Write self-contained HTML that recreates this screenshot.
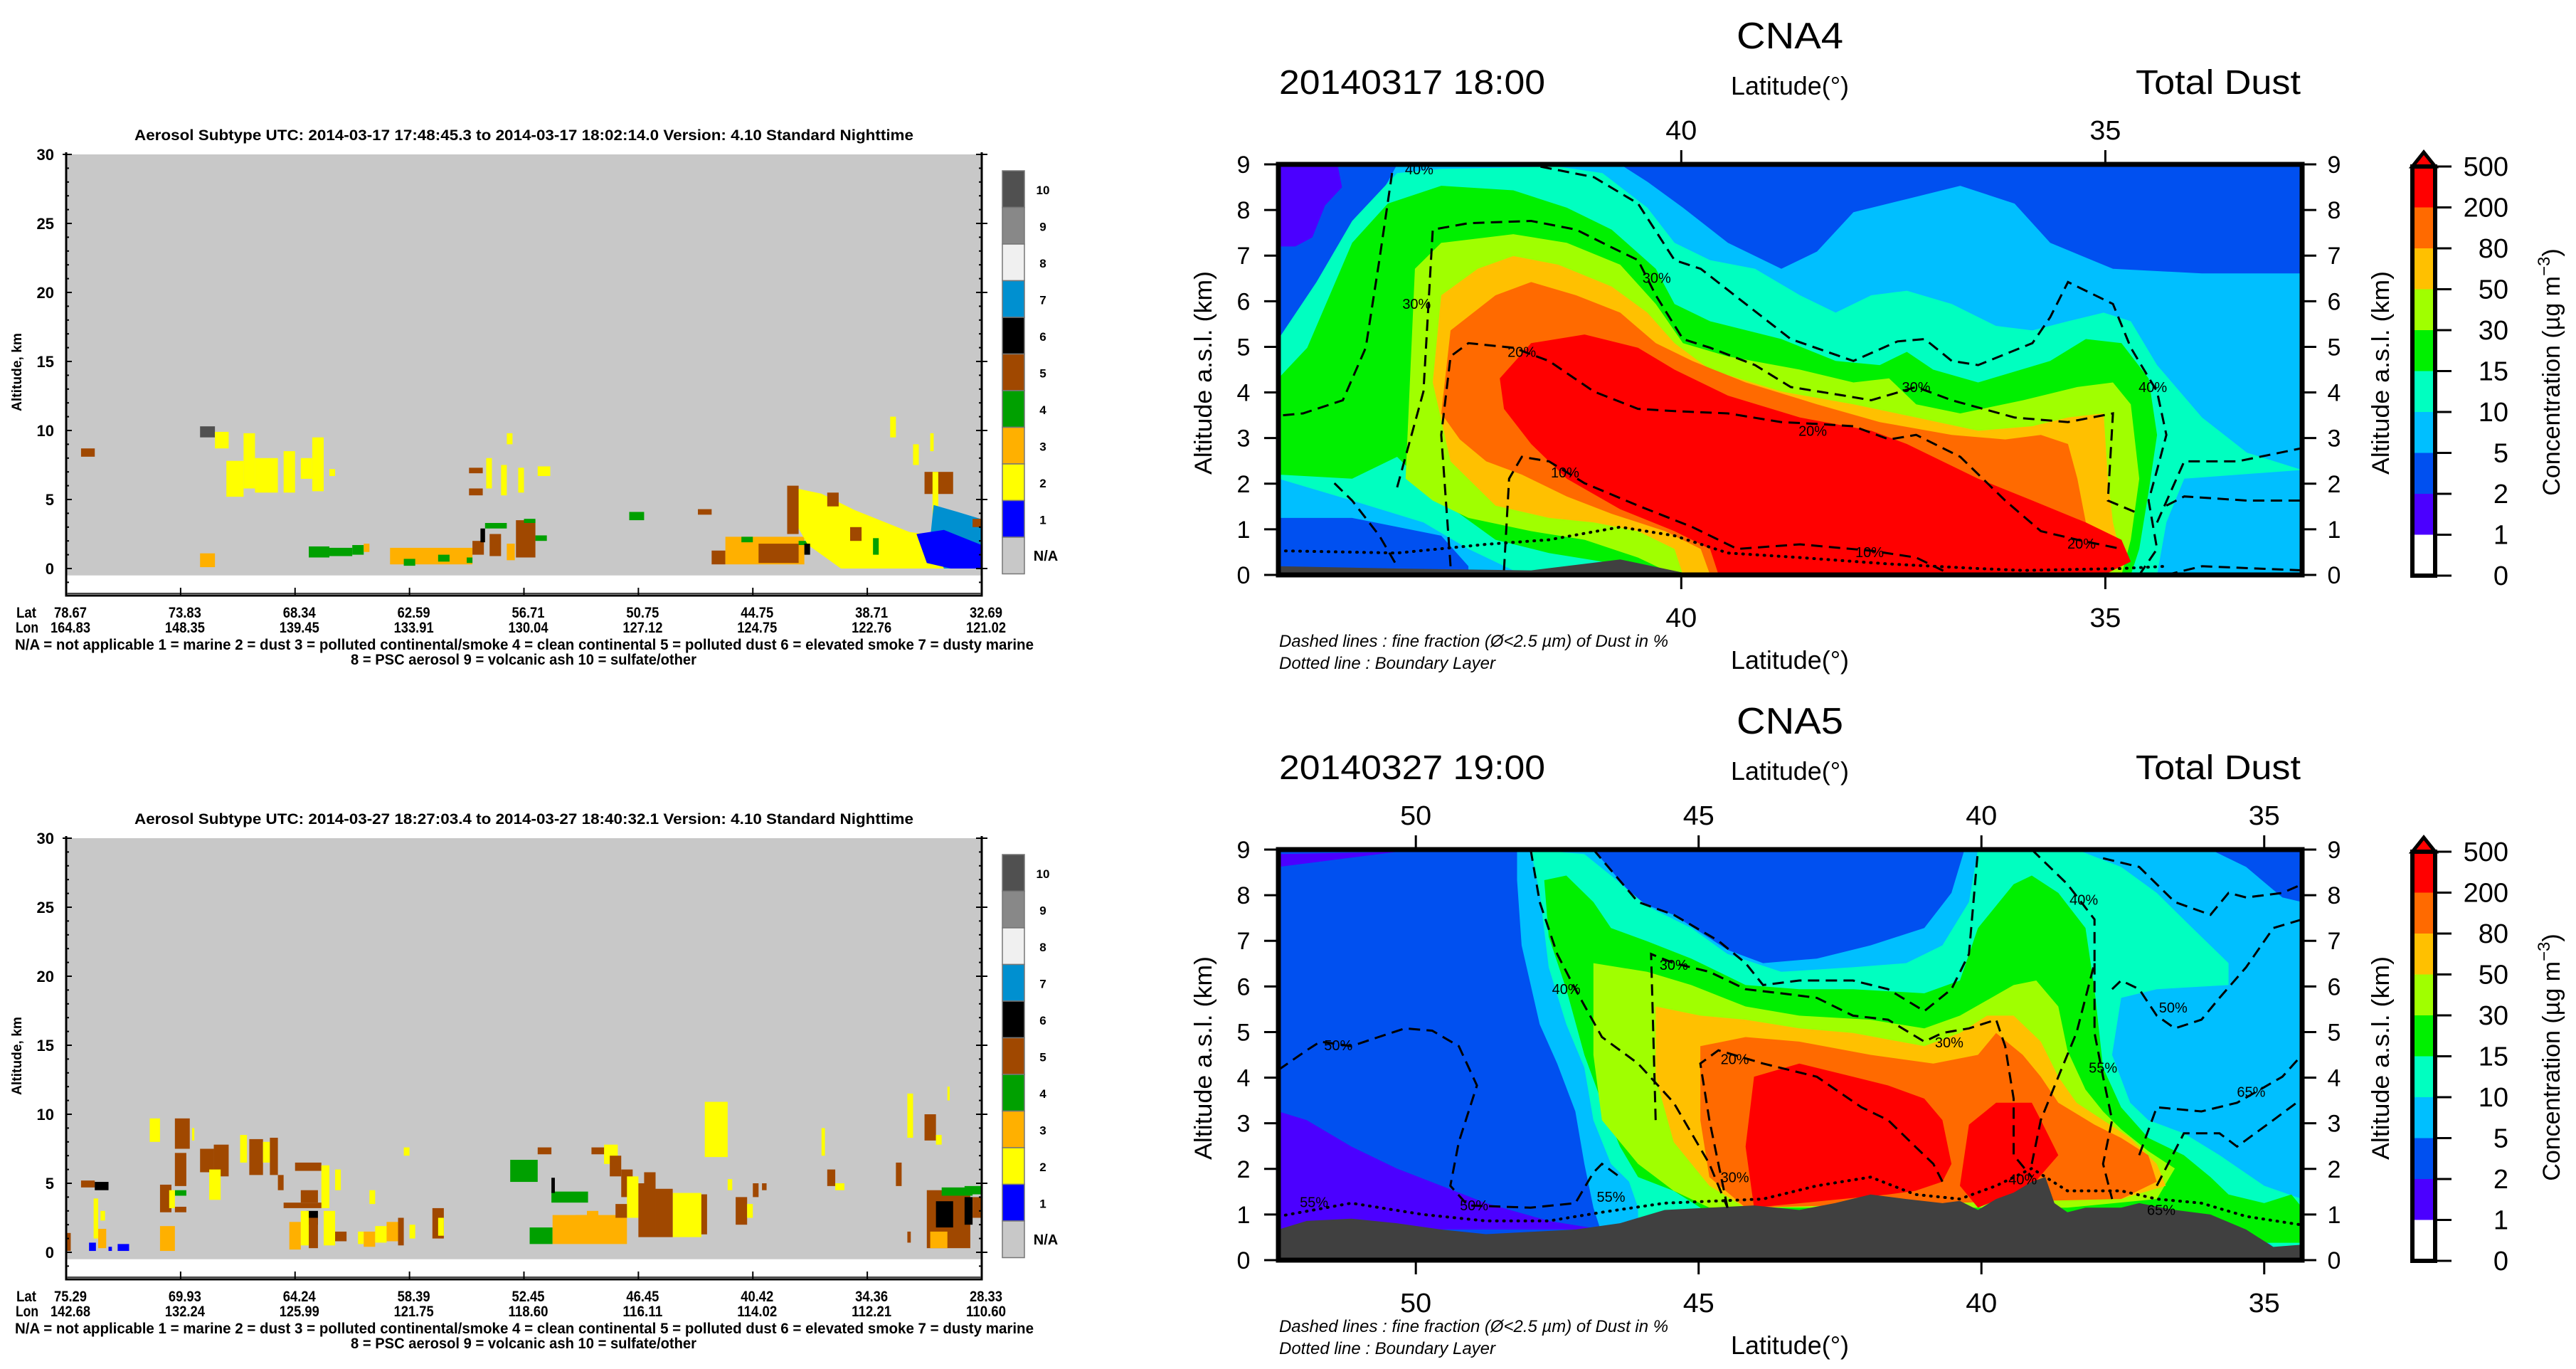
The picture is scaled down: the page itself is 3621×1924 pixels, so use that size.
<!DOCTYPE html>
<html><head><meta charset="utf-8"><style>
html,body{margin:0;padding:0;background:#fff;}
svg{display:block;font-family:"Liberation Sans",sans-serif;}
</style></head><body>
<svg id="fig" xmlns="http://www.w3.org/2000/svg" width="3621" height="1924" viewBox="0 0 3621 1924">
<rect x="0" y="0" width="3621" height="1924" fill="#fff"/>
<defs>
<clipPath id="clipA"><rect x="1797" y="231" width="1439" height="577"/></clipPath>
<clipPath id="clipB"><rect x="1797" y="1194" width="1439" height="577"/></clipPath>
</defs>
</svg>
<script>
const NS='http://www.w3.org/2000/svg';
const svg=document.getElementById('fig');
function mk(tag,attrs,parent){const e=document.createElementNS(NS,tag);for(const k in attrs)e.setAttribute(k,attrs[k]);(parent||svg).appendChild(e);return e;}
function txt(s,attrs,parent){const e=mk('text',attrs,parent);e.textContent=s;return e;}

/* ===== CALIPSO panel data ===== */
const typeColors=['#c8c8c8','#0000ff','#ffff00','#ffb000','#00a000','#a04800','#000000','#0090d0','#f0f0f0','#888888','#505050'];
const typeLabels=['N/A','1','2','3','4','5','6','7','8','9','10'];
const altTicks=[0,5,10,15,20,25,30];
const topLats=['78.67','73.83','68.34','62.59','56.71','50.75','44.75','38.71','32.69'];
const topLons=['164.83','148.35','139.45','133.91','130.04','127.12','124.75','122.76','121.02'];
const botLats=['75.29','69.93','64.24','58.39','52.45','46.45','40.42','34.36','28.33'];
const botLons=['142.68','132.24','125.99','121.75','118.60','116.11','114.02','112.21','110.60'];
const topBlocks=[[0.13,0.25,8.1,8.7,5],[1.17,1.30,9.5,10.3,10],[1.30,1.42,8.7,9.9,2],[1.17,1.30,0.1,1.1,3],
[1.40,1.55,5.2,7.8,2],[1.55,1.65,5.8,9.8,2],[1.65,1.85,5.5,8.0,2],[1.90,2.0,5.5,8.5,2],[2.05,2.15,6.5,8.0,2],[2.15,2.25,5.6,9.5,2],[2.30,2.35,6.7,7.2,2],
[2.12,2.30,0.8,1.6,4],[2.30,2.50,0.9,1.5,4],[2.50,2.60,1.0,1.7,4],[2.60,2.65,1.2,1.8,3],
[2.83,3.55,0.3,1.5,3],[2.95,3.05,0.2,0.7,4],[3.25,3.35,0.5,1.0,4],[3.50,3.55,0.4,0.8,4],
[3.52,3.64,6.9,7.3,5],[3.52,3.64,5.3,5.8,5],[3.67,3.72,5.8,8.0,2],[3.80,3.85,5.3,7.5,2],[3.85,3.90,9.0,9.8,2],[3.95,4.0,5.5,7.3,2],[4.12,4.23,6.7,7.4,2],
[3.55,3.65,1.0,2.0,5],[3.62,3.66,1.9,2.9,6],[3.66,3.85,2.9,3.3,4],[3.70,3.80,0.9,2.5,5],[3.85,3.92,0.6,1.8,3],[3.93,4.10,0.8,3.5,5],[4.0,4.1,3.3,3.6,4],[4.1,4.2,2.0,2.4,4],
[4.92,5.05,3.5,4.1,4],[5.52,5.64,3.9,4.3,5],[5.64,5.76,0.3,1.3,5],[5.76,6.45,0.3,2.3,3],[6.05,6.40,0.4,1.8,5],[5.90,6.0,1.9,2.3,4],[6.40,6.50,1.7,2.0,4],
[7.50,7.75,5.4,7.0,5],[7.20,7.25,9.5,11,2],[7.40,7.45,7.5,9.0,2],[7.55,7.58,8.5,9.8,2],[7.57,7.62,2.5,7.0,2]];
const topPolys=[{t:2,p:[[6.30,5.95],[6.60,5.42],[6.89,4.23],[7.37,2.64],[8,1.98],[8,0],[6.77,0],[6.48,1.72],[6.30,4.36]]},
{t:7,p:[[7.58,4.6],[7.79,4.1],[8,3.57],[8,0],[7.67,0],[7.55,2.2]]},
{t:1,p:[[7.43,2.5],[7.67,2.8],[7.91,2.0],[8,1.7],[8,0],[7.73,0],[7.52,0.4]]}];
const topBlocks2=[[6.30,6.40,2.5,6.0,5],[6.65,6.75,4.5,5.5,5],[6.45,6.5,1.0,1.8,6],[7.92,8.0,3.0,3.6,5],[6.85,6.95,2.0,3.0,5],[7.05,7.1,1.0,2.2,4]];
const botBlocks=[[0.0,0.04,0.1,1.4,5],[0.13,0.25,4.7,5.2,5],[0.25,0.37,4.5,5.1,6],[0.20,0.26,0.1,0.7,1],[0.37,0.40,0.1,0.4,1],[0.45,0.55,0.1,0.6,1],
[0.24,0.28,1.0,3.9,2],[0.28,0.35,0.3,1.7,3],[0.30,0.34,2.3,3.0,2],[0.73,0.82,8.0,9.7,2],[0.95,1.08,7.5,9.7,5],[1.10,1.12,8.1,9.0,2],[0.82,0.95,0.1,1.9,3],
[0.82,0.92,2.9,4.9,5],[0.95,1.05,2.9,3.3,5],[0.95,1.05,4.1,4.5,4],[0.95,1.05,4.8,7.2,5],[0.90,0.95,3.2,4.5,2],
[1.17,1.29,5.8,7.5,5],[1.29,1.42,5.5,7.8,5],[1.25,1.35,3.8,6.0,2],[1.52,1.58,6.5,8.5,2],[1.60,1.72,5.6,8.2,5],[1.72,1.78,6.5,8.0,2],[1.78,1.85,5.6,8.3,5],[1.85,1.90,4.5,5.6,5],
[2.0,2.23,5.9,6.5,5],[2.23,2.30,3.2,6.3,2],[2.35,2.40,4.5,6.0,2],[1.90,2.23,3.2,3.6,5],[2.05,2.20,3.6,4.5,5],[2.10,2.20,2.0,3.0,6],[1.95,2.05,0.2,2.2,3],[2.05,2.12,0.5,3.0,2],[2.12,2.20,0.3,2.5,5],[2.25,2.35,0.5,3.0,2],[2.35,2.45,0.8,1.5,5],
[2.55,2.60,0.6,1.5,2],[2.60,2.70,0.4,1.5,3],[2.70,2.80,0.7,1.9,2],[2.80,2.90,0.8,2.2,3],[2.90,2.95,0.5,2.5,5],[3.00,3.05,1.0,2.0,2],[3.20,3.30,1.0,3.2,5],[3.25,3.30,1.2,2.5,2],[2.65,2.70,3.5,4.5,2],[2.95,3.0,7.0,7.6,2],
[3.88,4.12,5.1,6.7,4],[4.12,4.24,7.1,7.6,5],[4.24,4.56,3.6,4.4,4],[4.24,4.27,4.3,5.4,6],[4.05,4.25,0.6,1.8,4],[4.25,4.90,0.6,2.7,3],[4.45,4.55,2.3,2.7,3],[4.55,4.65,2.5,3.0,3],
[4.59,4.71,7.1,7.6,5],[4.70,4.82,6.4,7.8,2],[4.75,4.85,5.5,7.0,5],[4.85,4.95,4.0,6.0,5],[4.90,5.00,2.5,5.5,2],[5.0,5.15,1.1,5.0,5],[5.05,5.15,4.3,5.8,5],[4.80,4.90,2.5,3.5,5],
[5.30,5.55,1.1,4.3,2],[5.15,5.30,1.1,4.6,5],[5.55,5.60,1.3,4.2,5],[5.58,5.78,6.9,10.9,2],[5.78,5.82,4.5,5.3,2],[5.85,5.95,2.0,4.0,5],[5.95,6.00,2.5,3.5,2],[6.00,6.05,4.0,5.0,5],[6.08,6.12,4.5,5.0,5],
[6.60,6.63,7.0,9.0,2],[6.65,6.72,4.8,6.0,5],[6.72,6.80,4.5,5.0,2],[7.25,7.30,4.8,6.5,5],[7.35,7.38,0.7,1.5,5],[7.35,7.40,8.3,11.5,2],[7.5,7.6,8.1,10.0,5],[7.60,7.65,7.8,8.5,2],[7.70,7.72,11,12,2],
[7.52,7.90,0.3,4.5,5],[7.60,7.75,1.8,3.7,6],[7.85,7.92,2.0,4.0,6],[7.55,7.70,0.3,1.5,3],[7.65,7.92,4.1,4.7,4],[7.85,8.0,4.2,4.8,4],[7.92,8.0,2.5,4.0,5]];

function drawCalipso(oy,title,lats,lons,blocks,polys,blocks2){
  const g=mk('g',{});
  
  
  const cx=f=>93+f*160.875, cy=a=>oy+799-a*19.4;
  const t=txt(title,{x:189,y:oy+197,'font-size':21,'font-weight':'bold',textLength:1095,lengthAdjust:'spacingAndGlyphs'},g);
  
  
  const bg=mk('rect',{x:93,y:cy(30),width:1287,height:cy(-0.5)-cy(30),fill:typeColors[0]},g);
  
  
  const drawB=list=>list.forEach(b=>{
    const r=mk('rect',{x:cx(b[0]),y:cy(b[3]),width:Math.max(2,cx(b[1])-cx(b[0])),height:cy(b[2])-cy(b[3]),fill:typeColors[b[4]]},g);
    
    
  });
  drawB(blocks);
  polys.forEach(pl=>{
    const d='M'+pl.p.map(q=>cx(q[0]).toFixed(1)+','+cy(q[1]).toFixed(1)).join('L')+'Z';
    const p=mk('path',{d:d,fill:typeColors[pl.t]},g);
    
    
  });
  drawB(blocks2);
  const ax=mk('path',{d:`M93,${cy(30)-3}V${oy+837}H1380V${cy(30)-3}`,fill:'none',stroke:'#000','stroke-width':3},g);
  
  
  mk('line',{x1:93,x2:1380,y1:oy+834,y2:oy+834,stroke:'#444','stroke-width':2},g);
  for(let a=-1;a<=30;a++){
    const big=a%5===0;
    mk('line',{x1:93,x2:big?101:97,y1:cy(a),y2:cy(a),stroke:'#000','stroke-width':2},g);
    mk('line',{x1:big?1372:1376,x2:big?1388:1380,y1:cy(a),y2:cy(a),stroke:'#000','stroke-width':2},g);
  }
  mk('line',{x1:88,x2:93,y1:cy(30),y2:cy(30),stroke:'#000','stroke-width':2},g);
  altTicks.forEach(a=>{
    const l=txt(String(a),{x:76,y:cy(a)+8,'font-size':22,'font-weight':'bold','text-anchor':'end'},g);
    
    
  });
  const yt=txt('Altitude, km',{x:0,y:0,'font-size':19,'font-weight':'bold','text-anchor':'middle',textLength:110,lengthAdjust:'spacingAndGlyphs',transform:`translate(30,${oy+523}) rotate(-90)`},g);
  
  
  lats.forEach((v,i)=>{
    const x=cx(i);
    mk('line',{x1:x,x2:x,y1:oy+826,y2:oy+837,stroke:'#000','stroke-width':2},g);
    const a=txt(v,{x:x+6,y:oy+868,'font-size':21,'font-weight':'bold','text-anchor':'middle',textLength:46,lengthAdjust:'spacingAndGlyphs'},g);
    
    
    const b=txt(lons[i],{x:x+6,y:oy+889,'font-size':21,'font-weight':'bold','text-anchor':'middle',textLength:56,lengthAdjust:'spacingAndGlyphs'},g);
    
    
  });
  const la=txt('Lat',{x:23,y:oy+868,'font-size':21,'font-weight':'bold',textLength:28,lengthAdjust:'spacingAndGlyphs'},g);
  
  
  const lo=txt('Lon',{x:22,y:oy+889,'font-size':21,'font-weight':'bold',textLength:32,lengthAdjust:'spacingAndGlyphs'},g);
  
  
  const l1=txt('N/A = not applicable     1 = marine     2 = dust     3 = polluted continental/smoke     4 = clean continental     5 = polluted dust     6 = elevated smoke     7 = dusty marine',{x:21,y:oy+913,'font-size':21,'font-weight':'bold',textLength:1432,lengthAdjust:'spacingAndGlyphs'},g);
  
  
  const l2=txt('8 = PSC aerosol     9 = volcanic ash     10 = sulfate/other',{x:493,y:oy+934,'font-size':21,'font-weight':'bold',textLength:486,lengthAdjust:'spacingAndGlyphs'},g);
  
  
  for(let k=0;k<11;k++){
    const idx=10-k, y=oy+240+k*51.5;
    const s=mk('rect',{x:1409,y:y,width:31,height:51.5,fill:typeColors[idx],stroke:'#777','stroke-width':1.5},g);
    
    
    const c=txt(typeLabels[idx],{x:idx===0?1470:1466,y:y+33,'font-size':idx===0?20:17,'font-weight':'bold','text-anchor':'middle'},g);
    
    
  }
}
drawCalipso(0,'Aerosol Subtype    UTC:  2014-03-17   17:48:45.3  to  2014-03-17   18:02:14.0    Version: 4.10  Standard Nighttime',topLats,topLons,topBlocks,topPolys,topBlocks2);
drawCalipso(961,'Aerosol Subtype    UTC:  2014-03-27   18:27:03.4  to  2014-03-27   18:40:32.1    Version: 4.10  Standard Nighttime',botLats,botLons,botBlocks,[],[]);

/* ===== Model panels data ===== */
const levelColors={p:'#4b00ff',b:'#0050f0',lb:'#00bfff',c:'#00ffc0',g:'#00f000',yg:'#a0ff00',o5:'#ffc000',o:'#ff6a00',r:'#ff0000',gr:'#404040'};
const cbLabels=['0','1','2','5','10','15','30','50','80','200','500'];
const cbColors=['#ffffff','#4b00ff','#0050f0','#00bfff','#00ffc0','#00f000','#a0ff00','#ffc000','#ff6a00','#ff0000'];
const altLabels=[0,1,2,3,4,5,6,7,8,9];
const cna4Ticks=[40,35];
const cna5Ticks=[50,45,40,35];
const cna4Polys=[
{c:'b',p:[[44.75,9],[43.35,9],[43.46,8.62],[43.88,7.28],[44.41,5.94],[44.75,5.17]]},
{c:'b',p:[[40.72,9],[32.68,9],[32.68,6.61],[33.86,6.61],[34.91,6.71],[35.65,7.28],[36.07,8.14],[36.71,8.53],[37.34,8.24],[37.97,7.95],[38.40,7.09],[38.82,6.71],[39.45,7.28],[39.98,8.05],[40.40,8.62]]},
{c:'b',p:[[44.75,1.25],[43.88,1.25],[42.83,0.86],[42.51,0.19],[42.51,0],[44.75,0]]},
{c:'p',p:[[44.75,8.95],[44.05,8.97],[44.0,8.5],[44.2,8.1],[44.35,7.4],[44.55,7.2],[44.75,7.2]]},
{c:'c',p:[[44.75,5.17],[44.30,6.42],[43.88,7.76],[43.35,8.81],[42.83,8.9],[41.45,8.95],[40.93,8.81],[40.40,8.05],[40.08,7.28],[39.66,6.9],[39.13,6.71],[38.60,6.13],[38.18,5.75],[37.76,6.13],[37.34,6.23],[36.81,5.94],[36.29,5.46],[35.86,5.36],[35.44,5.56],[35.02,5.75],[34.70,5.56],[34.39,4.6],[33.86,3.45],[33.33,2.68],[32.68,2.3],[34.07,2.11],[34.28,1.15],[34.39,0],[41.77,0],[41.98,0.1],[42.51,0.57],[43.04,1.15],[43.88,1.63],[44.75,2.11]]},
{c:'g',p:[[44.75,4.31],[44.41,4.98],[43.88,7.28],[43.46,8.14],[42.83,8.53],[41.98,8.43],[41.35,8.05],[40.82,7.57],[40.30,6.71],[40.08,5.94],[39.66,5.56],[38.82,5.17],[38.18,4.69],[37.66,4.6],[37.34,4.89],[37.03,4.5],[36.50,4.22],[35.65,4.69],[35.23,5.17],[34.81,5.08],[34.49,4.31],[34.39,3.07],[34.49,1.82],[34.60,0.57],[34.70,0],[40.72,0],[40.93,0.29],[41.56,0.48],[42.19,0.77],[42.83,1.63],[43.35,2.59],[43.88,2.11],[44.75,2.2]]},
{c:'yg',p:[[43.25,2.11],[43.14,6.71],[42.83,7.28],[41.98,7.47],[41.35,7.28],[40.72,6.8],[40.30,5.94],[39.98,5.08],[39.45,4.79],[38.60,4.5],[37.97,4.22],[37.55,4.31],[37.23,3.74],[36.71,3.54],[35.97,3.83],[35.33,4.12],[34.91,4.22],[34.70,3.74],[34.60,2.11],[34.70,0.77],[34.81,0],[40.08,0],[40.51,0.38],[41.14,0.77],[41.77,0.96],[42.51,1.25],[42.93,1.63]]},
{c:'o5',p:[[42.93,4.22],[42.83,6.13],[42.40,6.71],[41.98,6.99],[41.45,6.8],[40.82,6.32],[40.40,5.75],[40.08,5.08],[39.66,4.5],[38.82,4.02],[37.97,3.74],[37.23,3.45],[36.50,3.16],[35.86,3.26],[35.44,3.45],[35.02,3.54],[34.97,2.11],[34.91,1.15],[34.81,0.38],[35.02,0],[39.98,0],[40.08,0.57],[40.51,0.96],[41.03,1.15],[41.56,1.25],[42.19,1.52],[42.72,2.49]]},
{c:'o',p:[[42.83,3.54],[42.72,5.36],[42.19,6.13],[41.77,6.42],[41.24,6.13],[40.72,5.75],[40.30,5.08],[39.87,4.69],[39.24,4.22],[38.40,3.74],[37.66,3.35],[36.81,3.07],[36.18,2.97],[35.76,3.07],[35.44,2.87],[35.33,2.11],[35.23,1.15],[34.91,0.77],[34.81,0.19],[35.02,0],[39.66,0],[39.77,0.57],[40.19,0.96],[40.82,1.34],[41.35,1.72],[41.88,2.2],[42.30,2.49],[42.61,2.97]]},
{c:'r',p:[[42.14,4.31],[41.77,5.08],[41.14,5.27],[40.51,4.98],[40.08,4.5],[39.45,3.93],[38.60,3.45],[37.76,3.16],[37.34,2.87],[36.92,2.49],[36.50,2.11],[35.86,1.63],[35.23,1.15],[34.81,0.77],[34.70,0.29],[35.02,0],[39.56,0],[39.66,0.57],[40.08,0.96],[40.72,1.44],[41.35,2.11],[41.77,2.87],[42.09,3.64]]},
{c:'gr',p:[[44.75,0.19],[43.35,0.14],[41.77,0.1],[40.93,0.29],[40.72,0.34],[39.98,0.05],[32.68,0.02],[32.68,-0.2],[44.75,-0.2]]}];
const cna4Dashed=[
[[43.41,8.81],[43.56,6.9],[43.72,4.98],[43.99,3.83],[44.46,3.54],[44.75,3.49]],
[[44.09,2.01],[43.88,1.63],[43.56,0.86],[43.35,0.19]],
[[43.35,1.92],[43.04,4.02],[42.93,7.57],[42.51,7.71],[41.77,7.76],[41.24,7.57],[40.82,7.18],[40.51,6.9],[40.30,6.13],[39.98,5.17],[39.66,4.98],[39.13,4.6],[38.71,4.12],[38.08,3.93],[37.76,3.83],[37.23,4.12],[36.81,3.83],[36.07,3.45],[35.44,3.35],[34.91,3.54],[34.97,1.63],[34.60,1.34]],
[[42.72,0.19],[42.83,3.07],[42.72,4.79],[42.51,5.08],[41.98,4.98],[41.56,4.69],[41.03,4.02],[40.51,3.64],[40.08,3.59],[39.45,3.54],[38.82,3.35],[38.40,3.31],[37.97,3.26],[37.55,2.97],[37.23,3.07],[36.71,2.59],[36.18,1.63],[35.76,0.96],[35.33,0.77],[34.81,0.57]],
[[42.09,0.1],[42.03,2.11],[41.88,2.59],[41.56,2.49],[41.14,2.01],[40.51,1.52],[39.87,1.05],[39.34,0.57],[38.60,0.67],[37.76,0.53],[37.23,0.38],[36.81,0]],
[[41.66,8.95],[41.03,8.72],[40.51,8.14],[40.08,6.9],[39.77,6.71],[39.24,5.94],[38.71,5.17],[37.97,4.69],[37.45,5.12],[37.13,5.17],[36.81,4.69],[36.50,4.6],[35.86,5.08],[35.65,5.65],[35.44,6.42],[34.91,5.94],[34.70,4.98],[34.39,4.02],[34.28,3.07],[34.39,2.3],[34.49,1.63],[34.39,0.57],[34.60,0]],
[[34.39,1.15],[34.07,2.49],[33.44,2.49],[32.68,2.78]],
[[34.28,1.52],[34.07,1.72],[33.33,1.63],[32.68,1.63]],
[[34.28,0],[33.86,0.19],[32.68,0.1]]];
const cna4Dotted=[[44.75,0.53],[43.35,0.48],[42.30,0.67],[41.56,0.77],[40.72,1.05],[40.08,0.86],[39.45,0.48],[38.60,0.38],[37.55,0.24],[36.50,0.14],[35.97,0.1],[34.81,0.14],[34.28,0.19]];
const cna4Labels=[['40%',43.09,8.89],['30%',43.12,5.94],['30%',40.29,6.51],['20%',41.88,4.89],['30%',37.23,4.12],['20%',38.45,3.16],['10%',41.37,2.25],['10%',37.78,0.5],['20%',35.28,0.69],['40%',34.44,4.12]];

const cna5Polys=[
{c:'p',p:[[52.43,3.26],[51.93,3.07],[51.14,2.49],[50.34,2.01],[49.55,1.63],[48.76,1.25],[47.65,0.86],[46.71,0.67],[52.43,0.67]]},
{c:'p',p:[[52.43,8.9],[50.34,8.95],[52.43,8.62]]},
{c:'lb',p:[[48.21,9],[46.86,9],[46.07,7.85],[45.44,7.57],[44.49,6.8],[43.86,6.51],[42.91,6.61],[41.96,6.9],[41.01,7.28],[40.53,8.05],[40.30,9],[35.95,9],[35.32,8.62],[34.68,7.95],[34.33,7.85],[34.33,0],[46.71,0],[46.71,0.57],[46.86,1.15],[47.02,2.11],[47.18,3.26],[47.50,4.31],[47.81,5.17],[48.13,6.9],[48.21,8.33]]},
{c:'c',p:[[47.97,9],[47.02,8.9],[46.55,8.43],[45.91,7.76],[45.13,7.28],[44.49,6.71],[43.54,6.32],[42.27,6.42],[41.33,6.51],[40.69,6.9],[40.22,7.85],[40.06,9],[38.32,9],[37.53,8.62],[36.90,8.05],[36.27,7.28],[35.63,6.51],[35.63,6.03],[36.90,5.94],[37.53,5.75],[37.69,4.5],[37.37,3.45],[37.05,3.07],[36.42,2.78],[35.79,2.3],[35.0,1.63],[34.33,1.34],[34.33,0.29],[34.84,0.29],[35.16,0.67],[35.63,0.86],[36.90,0],[46.07,0],[46.07,1.15],[46.23,1.72],[46.55,2.11],[46.86,3.07],[47.02,4.22],[47.34,5.17],[47.65,6.42],[47.81,8.05]]},
{c:'g',p:[[47.73,8.33],[47.34,8.43],[46.86,7.85],[46.55,7.28],[45.91,6.99],[45.13,6.61],[44.17,6.03],[43.22,5.94],[42.27,5.94],[41.01,5.85],[40.38,6.13],[40.06,7.28],[39.43,8.24],[39.11,8.43],[38.64,8.05],[38.16,7.28],[38.0,5.94],[37.85,4.22],[37.53,3.35],[37.05,2.68],[36.42,2.3],[35.95,1.82],[35.63,1.44],[35.0,1.25],[34.52,1.44],[34.33,1.15],[34.33,0.38],[35.0,0.38],[36.11,0],[44.97,0],[44.97,1.15],[45.44,1.52],[46.07,1.82],[46.39,2.49],[46.71,3.45],[47.02,4.5],[47.34,5.94],[47.65,7.09]]},
{c:'yg',p:[[46.86,6.51],[45.91,6.32],[45.13,6.03],[44.17,5.56],[43.22,5.36],[41.96,5.27],[41.01,5.08],[40.38,5.36],[39.43,6.03],[39.03,6.13],[38.64,5.56],[38.48,4.6],[38.16,3.74],[37.85,3.26],[37.53,2.87],[37.05,2.39],[36.58,2.01],[36.90,1.34],[38.48,1.15],[44.81,1.15],[45.44,1.52],[46.07,2.11],[46.71,3.07],[46.86,4.5]]},
{c:'o5',p:[[45.76,5.56],[44.97,5.36],[44.17,5.27],[43.22,5.08],[42.27,4.98],[41.01,4.69],[40.38,4.98],[39.90,5.36],[39.43,5.36],[38.95,4.79],[38.64,4.02],[38.32,3.45],[37.85,3.07],[37.37,2.68],[36.90,2.11],[36.74,1.63],[37.53,1.34],[44.17,1.15],[44.81,1.63],[45.44,2.59],[45.76,4.02]]},
{c:'o',p:[[44.97,4.69],[44.17,4.89],[43.22,4.79],[41.96,4.5],[40.85,4.31],[40.06,4.5],[39.74,4.98],[39.27,4.5],[38.95,4.02],[38.64,3.45],[38.0,2.97],[37.53,2.68],[37.05,2.3],[36.90,1.72],[37.53,1.34],[44.17,1.15],[44.81,1.82],[44.97,3.07]]},
{c:'r',p:[[44.02,4.02],[43.22,4.31],[42.27,4.02],[41.65,3.83],[41.01,3.54],[40.69,3.07],[40.53,2.11],[40.69,1.72],[41.17,1.52],[41.65,1.44],[44.02,1.15],[44.17,2.49]]},
{c:'r',p:[[40.22,2.97],[39.74,3.45],[39.11,3.45],[38.95,3.07],[38.64,2.3],[39.11,1.63],[40.06,1.15],[40.38,1.63]]},
{c:'gr',p:[[52.43,0.67],[51.93,0.86],[51.14,0.91],[50.34,0.81],[49.55,0.67],[48.76,0.57],[47.97,0.62],[47.18,0.67],[46.39,0.81],[45.60,1.1],[44.81,1.15],[44.02,1.2],[43.22,1.1],[42.59,1.25],[41.96,1.44],[41.33,1.34],[40.69,1.25],[40.38,1.3],[40.06,1.1],[39.74,1.34],[39.43,1.48],[39.11,1.72],[38.87,1.82],[38.71,1.25],[38.48,1.05],[38.16,1.15],[37.53,1.15],[37.21,1.25],[36.58,1.1],[35.95,1.0],[35.32,0.67],[34.84,0.29],[34.33,0.34],[34.33,-0.2],[52.43,-0.2]]}];
const cna5Dashed=[
[[52.43,4.17],[51.93,4.6],[51.69,4.79],[51.14,4.69],[50.66,4.89],[50.19,5.08],[49.71,5.03],[49.24,4.69],[48.92,3.83],[49.24,2.59],[49.39,1.63],[49.08,1.2],[47.97,1.15],[47.18,1.25],[46.86,1.92],[46.71,2.11],[46.39,1.82]],
[[47.97,9],[47.81,7.85],[47.50,6.71],[47.18,5.94],[46.71,4.89],[46.07,4.31],[45.44,3.45],[44.81,2.11],[44.49,1.15]],
[[45.76,3.07],[45.84,6.71],[45.44,6.51],[44.81,6.32],[44.17,5.94],[43.54,5.85],[42.91,5.75],[42.27,5.36],[41.65,5.27],[41.01,4.79],[40.69,4.98],[40.22,5.08],[39.74,5.27],[39.58,4.69],[39.43,3.54],[39.43,2.3],[39.11,1.82]],
[[46.86,9],[46.07,7.85],[45.44,7.57],[44.65,7.0],[44.17,6.51],[43.86,6.03],[43.22,6.13],[42.27,6.13],[41.65,5.94],[41.01,5.46],[40.53,5.94],[40.22,6.71],[40.06,9]],
[[44.49,1.15],[44.81,3.07],[44.97,4.31],[44.65,4.6],[43.86,4.31],[42.91,4.02],[42.12,3.35],[41.65,3.07],[41.17,2.49],[40.85,2.11],[40.69,1.72]],
[[39.11,9],[38.48,8.24],[38.0,7.47],[38.0,6.51],[38.32,4.98],[38.64,4.02],[38.95,3.07],[39.11,2.11]],
[[38.0,6.51],[38.0,4.98],[37.85,4.02],[37.69,3.07],[37.85,2.11],[37.69,1.34]],
[[37.69,5.94],[37.53,6.13],[37.21,5.94],[36.90,5.36],[36.58,5.08],[36.11,5.27],[35.79,5.75],[35.32,6.42],[34.84,7.28],[34.33,7.47]],
[[37.85,8.81],[37.21,8.62],[36.58,7.85],[35.95,7.57],[35.63,8.05],[35.32,7.95],[34.68,8.05],[34.33,8.24]],
[[37.21,2.3],[36.90,3.35],[36.11,3.26],[35.48,3.45],[34.68,4.02],[34.33,4.5]],
[[36.90,1.63],[36.42,2.78],[35.79,2.78],[35.48,2.49],[34.84,3.07],[34.33,3.54]]];
const cna5Dotted=[[52.43,0.96],[51.14,1.25],[49.87,1.0],[48.76,0.86],[47.65,0.86],[46.71,1.05],[45.60,1.25],[44.81,1.29],[43.86,1.34],[42.91,1.63],[41.96,1.82],[41.17,1.44],[40.38,1.34],[39.74,1.63],[39.11,2.01],[38.48,1.52],[37.53,1.52],[36.90,1.34],[36.11,1.25],[35.32,0.96],[34.33,0.77]];
const cna5Labels=[['50%',51.37,4.71],['40%',47.34,5.94],['30%',45.44,6.47],['20%',44.36,4.41],['30%',44.36,1.82],['55%',51.80,1.27],['50%',48.97,1.2],['55%',46.55,1.39],['30%',40.57,4.77],['40%',38.19,7.9],['55%',37.85,4.22],['50%',36.61,5.54],['65%',35.23,3.69],['40%',39.27,1.77],['65%',36.82,1.1]];

function drawModel(oy,name,date,latL,latR,ticks,polys,dashed,dotted,labels,clip){
  const g=mk('g',{});
  
  
  const X0=1797,X1=3236,Y0=oy+231,Y1=oy+808;
  const x=lat=>X0+(latL-lat)/(latL-latR)*(X1-X0);
  const y=a=>Y1-a*(Y1-Y0)/9;
  const tt=txt(name,{x:2516,y:oy+68,'font-size':52,'text-anchor':'middle',textLength:150,lengthAdjust:'spacingAndGlyphs'},g);
  
  
  const dt=txt(date,{x:1798,y:oy+132,'font-size':48,textLength:374,lengthAdjust:'spacingAndGlyphs'},g);
  
  
  const td=txt('Total Dust',{x:3234,y:oy+132,'font-size':48,'text-anchor':'end',textLength:232,lengthAdjust:'spacingAndGlyphs'},g);
  
  
  const lt=txt('Latitude(°)',{x:2516,y:oy+133,'font-size':36,'text-anchor':'middle',textLength:166,lengthAdjust:'spacingAndGlyphs'},g);
  
  
  const pg=mk('g',{'clip-path':`url(#${clip})`},g);
  const bg=mk('rect',{x:X0,y:Y0,width:X1-X0,height:Y1-Y0,fill:name==='CNA4'?levelColors.lb:levelColors.b},pg);
  
  
  polys.forEach(pl=>{
    const d='M'+pl.p.map(q=>x(q[0]).toFixed(1)+','+y(q[1]).toFixed(1)).join('L')+'Z';
    const p=mk('path',{d:d,fill:levelColors[pl.c]},pg);
    
    
  });
  dashed.forEach(ln=>{
    const d='M'+ln.map(q=>x(q[0]).toFixed(1)+','+y(q[1]).toFixed(1)).join('L');
    const p=mk('path',{d:d,fill:'none',stroke:'#000','stroke-width':3,'stroke-dasharray':'16 9'},pg);
    
    
  });
  const dd='M'+dotted.map(q=>x(q[0]).toFixed(1)+','+y(q[1]).toFixed(1)).join('L');
  const dp=mk('path',{d:dd,fill:'none',stroke:'#000','stroke-width':4,'stroke-dasharray':'1 9','stroke-linecap':'round'},pg);
  
  
  labels.forEach(l=>{
    const e=txt(l[0],{x:x(l[1]),y:y(l[2])+7,'font-size':20,'text-anchor':'middle'},pg);
    
    
  });
  const fr=mk('rect',{x:X0,y:Y0,width:X1-X0,height:Y1-Y0,fill:'none',stroke:'#000','stroke-width':7},g);
  
  
  altLabels.forEach(a=>{
    mk('line',{x1:X0-20,x2:X0,y1:y(a),y2:y(a),stroke:'#000','stroke-width':3},g);
    mk('line',{x1:X1,x2:X1+20,y1:y(a),y2:y(a),stroke:'#000','stroke-width':3},g);
    const l=txt(String(a),{x:1748,y:y(a)+12,'font-size':34,'text-anchor':'middle'},g);
    
    
    const r=txt(String(a),{x:3281,y:y(a)+12,'font-size':34,'text-anchor':'middle'},g);
    
    
  });
  ticks.forEach(t=>{
    const xx=x(t);
    mk('line',{x1:xx,x2:xx,y1:Y0-20,y2:Y0,stroke:'#000','stroke-width':3},g);
    mk('line',{x1:xx,x2:xx,y1:Y1,y2:Y1+20,stroke:'#000','stroke-width':3},g);
    const a=txt(String(t),{x:xx,y:oy+196,'font-size':38,'text-anchor':'middle',textLength:44,lengthAdjust:'spacingAndGlyphs'},g);
    
    
    const b=txt(String(t),{x:xx,y:oy+881,'font-size':38,'text-anchor':'middle',textLength:44,lengthAdjust:'spacingAndGlyphs'},g);
    
    
  });
  const ya=txt('Altitude a.s.l. (km)',{x:0,y:0,'font-size':34,'text-anchor':'middle',textLength:286,lengthAdjust:'spacingAndGlyphs',transform:`translate(1703,${oy+524}) rotate(-90)`},g);
  
  
  const yb=txt('Altitude a.s.l. (km)',{x:0,y:0,'font-size':34,'text-anchor':'middle',textLength:286,lengthAdjust:'spacingAndGlyphs',transform:`translate(3358,${oy+524}) rotate(-90)`},g);
  
  
  const n1=txt('Dashed lines : fine fraction (Ø<2.5 µm) of Dust in %',{x:1798,y:oy+909,'font-size':24,'font-style':'italic',textLength:547,lengthAdjust:'spacingAndGlyphs'},g);
  
  
  const n2=txt('Dotted line : Boundary Layer',{x:1798,y:oy+940,'font-size':24,'font-style':'italic',textLength:304,lengthAdjust:'spacingAndGlyphs'},g);
  
  
  const bt=txt('Latitude(°)',{x:2516,y:oy+940,'font-size':36,'text-anchor':'middle',textLength:166,lengthAdjust:'spacingAndGlyphs'},g);
  
  
  const cbT=oy+234,cbB=oy+809,seg=(cbB-cbT)/10;
  cbColors.forEach((c,i)=>{
    const r=mk('rect',{x:3391,y:cbB-(i+1)*seg,width:32,height:seg,fill:c},g);
    
    
  });
  const ar=mk('path',{d:`M3391,${cbT}L3407,${oy+214}L3423,${cbT}Z`,fill:'#ff0000',stroke:'#000','stroke-width':5,'stroke-linejoin':'miter'},g);
  
  
  const cbf=mk('rect',{x:3391,y:cbT,width:32,height:cbB-cbT,fill:'none',stroke:'#000','stroke-width':6},g);
  
  
  cbLabels.forEach((s,i)=>{
    const yy=cbB-i*seg;
    mk('line',{x1:3423,x2:3446,y1:yy,y2:yy,stroke:'#000','stroke-width':3},g);
    const l=txt(s,{x:3526,y:yy+13,'font-size':38,'text-anchor':'end'},g);
    
    
  });
  const ct=txt('',{x:0,y:0,'font-size':34,'text-anchor':'middle',transform:`translate(3598,${oy+523}) rotate(-90)`},g);
  
  
  const s1=mk('tspan',{},ct); s1.textContent='Concentration (µg m';
  const s2=mk('tspan',{dy:-14,'font-size':24},ct); s2.textContent='−3';
  const s3=mk('tspan',{dy:14},ct); s3.textContent=')';
}
drawModel(0,'CNA4','20140317 18:00',44.75,32.68,cna4Ticks,cna4Polys,cna4Dashed,cna4Dotted,cna4Labels,'clipA');
drawModel(963,'CNA5','20140327 19:00',52.43,34.33,cna5Ticks,cna5Polys,cna5Dashed,cna5Dotted,cna5Labels,'clipB');
</script>
</body></html>
